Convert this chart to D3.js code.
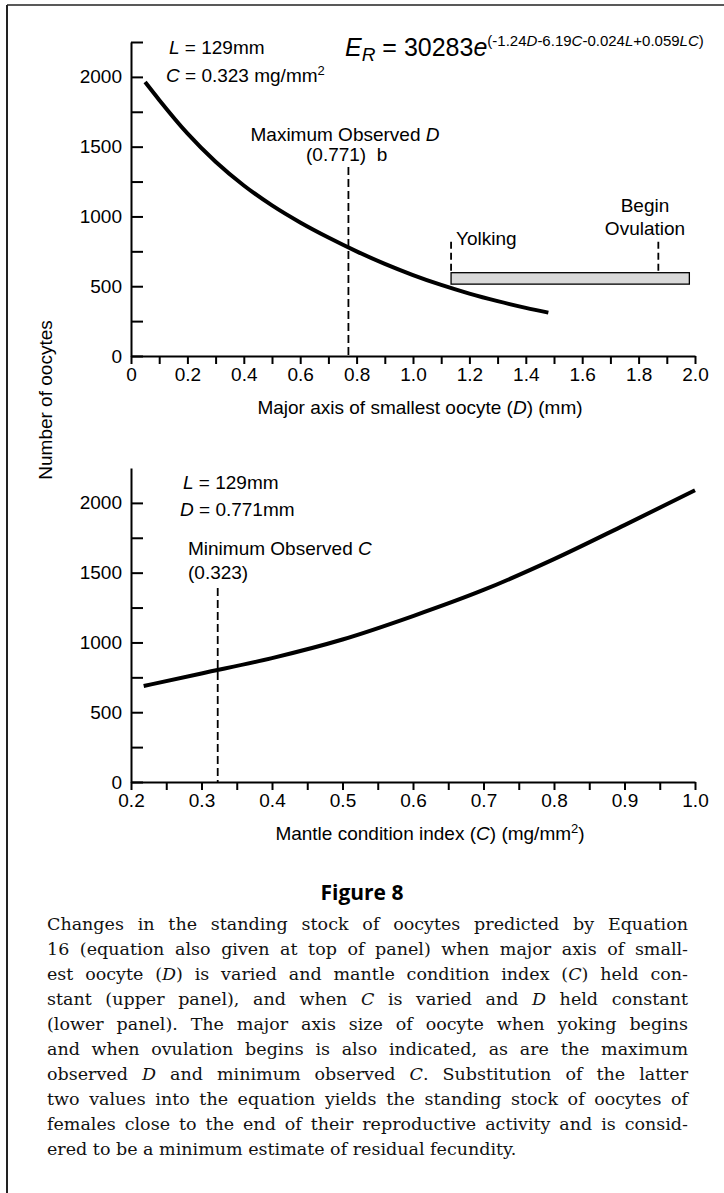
<!DOCTYPE html>
<html><head><meta charset="utf-8">
<script src="https://cdn.jsdelivr.net/npm/d3@7"></script>
<style>html,body{margin:0;padding:0;background:#fff;} svg{display:block}</style>
</head><body>
<script>
// ---- data ----
const dSizes   = [0.05, 0.1, 0.2, 0.3, 0.4, 0.5, 0.6, 0.7, 0.8, 0.9, 1.0, 1.1, 1.2, 1.3, 1.4, 1.48];
const dOocytes = [1963, 1835, 1595, 1392, 1222, 1079, 957, 849, 750, 660, 580, 509, 447, 393, 345, 311];
const cIndex   = [0.218, 0.3, 0.4, 0.5, 0.6, 0.7, 0.8, 0.9, 1.0];
const cOocytes = [688, 778, 888, 1021, 1189, 1376, 1597, 1841, 2090];
const dTicks = d3.range(0, 21).map(i => i / 10);
const cTicks = d3.range(0, 17).map(i => 0.2 + i * 0.05);
const yTicksTop = d3.range(0, 10).map(i => i * 250);
const yTicksBottom = d3.range(0, 9).map(i => i * 250);
const maxObservedD = 0.771, minObservedC = 0.323;
const dashTopD = 1355, dashTopC = 1390;
const yolkingD = 1.135, ovulationD = 1.87, barEndD = 1.98;
const barRange = [515, 597];
const markerTop = 818;
const captionLines = [
  "Changes in the standing stock of oocytes predicted by Equation",
  "16 (equation also given at top of panel) when major axis of small-",
  "est oocyte (*D*) is varied and mantle condition index (*C*) held con-",
  "stant (upper panel), and when *C* is varied and *D* held constant",
  "(lower panel). The major axis size of oocyte when yoking begins",
  "and when ovulation begins is also indicated, as are the maximum",
  "observed *D* and minimum observed *C*. Substitution of the latter",
  "two values into the equation yields the standing stock of oocytes of",
  "females close to the end of their reproductive activity and is consid-",
  "ered to be a minimum estimate of residual fecundity."
];

const W = 724, H = 1193;
const SANS = "'Liberation Sans', Arial, Helvetica, sans-serif";
const FS = 19;
const svg = d3.select("body").append("svg").attr("width", W).attr("height", H)
  .style("font-family", SANS);

// frame
svg.append("line").attr("x1", 7).attr("x2", W).attr("y1", 5).attr("y2", 5).attr("stroke", "#222").attr("stroke-width", 1.5);
svg.append("line").attr("x1", 7).attr("x2", 7).attr("y1", 5).attr("y2", H).attr("stroke", "#222").attr("stroke-width", 2);

// scales
const xD = d3.scaleLinear([0, 2], [131, 695]);
const yTop = d3.scaleLinear([0, 2250], [356, 42]);
const xC = d3.scaleLinear([0.2, 1.0], [131, 695]);
const yBot = d3.scaleLinear([0, 2250], [782, 468]);

function styleAxis(g) {
  g.selectAll("path.domain").attr("stroke", "#000").attr("stroke-width", 2);
  g.selectAll(".tick line").attr("stroke", "#000").attr("stroke-width", 2);
  g.selectAll(".tick text").attr("fill", "#000").style("font-size", FS + "px").style("font-family", SANS);
}

// top axes
svg.append("g").attr("transform", `translate(0,${yTop(0)})`)
  .call(d3.axisBottom(xD).tickValues(dTicks).tickSizeInner(8).tickSizeOuter(0).tickPadding(4)
    .tickFormat(d => (Math.round(d * 10) % 2 === 0) ? (d === 0 ? "0" : d.toFixed(1)) : ""))
  .call(styleAxis);
svg.append("g").attr("transform", `translate(${xD(0)},0)`)
  .call(d3.axisLeft(yTop).tickValues(yTicksTop).tickSizeInner(-12).tickSizeOuter(0).tickPadding(9)
    .tickFormat(d => d % 500 === 0 ? d : ""))
  .call(styleAxis);

// bottom axes
svg.append("g").attr("transform", `translate(0,${yBot(0)})`)
  .call(d3.axisBottom(xC).tickValues(cTicks).tickSizeInner(8).tickSizeOuter(0).tickPadding(4)
    .tickFormat(d => (Math.round(d * 100) % 10 === 0) ? d.toFixed(1) : ""))
  .call(styleAxis);
svg.append("g").attr("transform", `translate(${xC(0.2)},0)`)
  .call(d3.axisLeft(yBot).tickValues(yTicksBottom).tickSizeInner(-12).tickSizeOuter(0).tickPadding(9)
    .tickFormat(d => d % 500 === 0 ? d : ""))
  .call(styleAxis);

// top: yolking-ovulation bar
svg.append("rect")
  .attr("x", xD(yolkingD)).attr("width", xD(barEndD) - xD(yolkingD))
  .attr("y", yTop(barRange[1])).attr("height", yTop(barRange[0]) - yTop(barRange[1]))
  .attr("fill", "#d9d9d9").attr("stroke", "#000").attr("stroke-width", 1.3);
[yolkingD, ovulationD].forEach(v => {
  svg.append("line").attr("x1", xD(v)).attr("x2", xD(v))
    .attr("y1", yTop(markerTop)).attr("y2", yTop(barRange[1]))
    .attr("stroke", "#000").attr("stroke-width", 1.8).attr("stroke-dasharray", "7,4");
});

// dashed reference lines
svg.append("line").attr("x1", xD(maxObservedD)).attr("x2", xD(maxObservedD))
  .attr("y1", yTop(dashTopD)).attr("y2", yTop(0))
  .attr("stroke", "#000").attr("stroke-width", 1.8).attr("stroke-dasharray", "8,4");
svg.append("line").attr("x1", xC(minObservedC)).attr("x2", xC(minObservedC))
  .attr("y1", yBot(dashTopC)).attr("y2", yBot(0))
  .attr("stroke", "#000").attr("stroke-width", 1.8).attr("stroke-dasharray", "8,4");

// curves
const topData = dSizes.map((d, i) => [d, dOocytes[i]]);
const botData = cIndex.map((c, i) => [c, cOocytes[i]]);
svg.append("path").datum(topData)
  .attr("d", d3.line().x(d => xD(d[0])).y(d => yTop(d[1])).curve(d3.curveMonotoneX))
  .attr("fill", "none").attr("stroke", "#000").attr("stroke-width", 4);
svg.append("path").datum(botData)
  .attr("d", d3.line().x(d => xC(d[0])).y(d => yBot(d[1])).curve(d3.curveMonotoneX))
  .attr("fill", "none").attr("stroke", "#000").attr("stroke-width", 4);

// text helper
function rich(x, y, parts, anchor, size) {
  const t = svg.append("text").attr("x", x).attr("y", y)
    .attr("text-anchor", anchor || "start").style("font-size", (size || FS) + "px")
    .style("white-space", "pre").attr("fill", "#000");
  parts.forEach(p => {
    const s = t.append("tspan").text(p[0]);
    const o = p[1] || {};
    if (o.italic) s.style("font-style", "italic");
    if (o.size) s.style("font-size", o.size + "px");
    if (o.dy) s.attr("dy", o.dy);
  });
  return t;
}

// top annotations
rich(169, 54, [["L", {italic: true}], [" = 129mm"]]);
rich(166, 82, [["C", {italic: true}], [" = 0.323 mg/mm"], ["2", {size: 13, dy: -7}]]);
rich(345, 56, [
  ["E", {italic: true, size: 25}], ["R", {italic: true, size: 19, dy: 5}],
  [" = 30283", {size: 25, dy: -5}], ["e", {italic: true, size: 25}],
  ["(-1.24", {size: 15, dy: -10}], ["D", {italic: true, size: 15}], ["-6.19", {size: 15}],
  ["C", {italic: true, size: 15}], ["-0.024", {size: 15}], ["L", {italic: true, size: 15}],
  ["+0.059", {size: 15}], ["LC", {italic: true, size: 15}], [")", {size: 15}]
]);
rich(345, 141, [["Maximum Observed "], ["D", {italic: true}]], "middle");
rich(306, 161, [["(0.771)  b"]]);
rich(456, 245, [["Yolking"]]);
rich(645, 212, [["Begin"]], "middle");
rich(645, 235, [["Ovulation"]], "middle");

// bottom annotations
rich(183, 489, [["L", {italic: true}], [" = 129mm"]]);
rich(180, 516, [["D", {italic: true}], [" = 0.771mm"]]);
rich(188, 555, [["Minimum Observed "], ["C", {italic: true}]]);
rich(188, 579, [["(0.323)"]]);

// axis titles
rich(420, 414, [["Major axis of smallest oocyte ("], ["D", {italic: true}], [") (mm)"]], "middle");
rich(430, 840, [["Mantle condition index ("], ["C", {italic: true}], [") (mg/mm"], ["2", {size: 13, dy: -7}], [")", {dy: 7}]], "middle");
rich(0, 0, [["Number of oocytes"]], "middle").attr("transform", "translate(52,400) rotate(-90)");

// figure title
svg.append("text").attr("x", 362).attr("y", 900).attr("text-anchor", "middle")
  .style("font-family", "'Open Sans', 'Noto Sans', sans-serif").style("font-weight", 700)
  .style("font-size", "21px").text("Figure 8");

// caption, justified
const capX = 47, capW = 641, capY0 = 930, capLH = 25;
captionLines.forEach((line, i) => {
  const t = svg.append("text").attr("x", capX).attr("y", capY0 + i * capLH)
    .style("font-family", "'DejaVu Serif', 'Liberation Serif', serif").style("font-size", "17.5px")
    .attr("fill", "#111");
  line.split("*").forEach((seg, k) => {
    if (!seg) return;
    const s = t.append("tspan").text(seg);
    if (k % 2 === 1) s.style("font-style", "italic");
  });
  if (i < captionLines.length - 1) {
    const nat = t.node().getComputedTextLength();
    const spaces = (line.match(/ /g) || []).length;
    if (spaces > 0) t.style("word-spacing", ((capW - nat) / spaces) + "px");
  }
});
</script>
</body></html>
